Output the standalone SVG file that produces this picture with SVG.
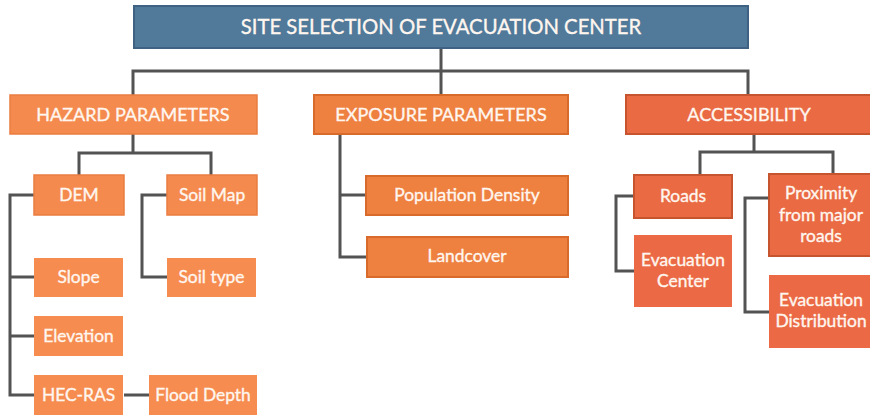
<svg xmlns="http://www.w3.org/2000/svg" width="870" height="415" viewBox="0 0 870 415">
  <style>
    .lbl { font-family: Lato, "Open Sans", "Liberation Sans", sans-serif; fill: #fff6ef; stroke: #fff6ef; stroke-width: 0.35; text-anchor: middle; }
    .title { font-size: 20.3px; }
    .head { font-size: 18px; }
    .sub { font-size: 17.4px; }
    .wire { fill: none; stroke: #535353; stroke-width: 3; }
    .root { fill: #50799a; stroke: #3f6282; stroke-width: 2; }
    .haz { fill: #f48a4d; stroke: #ea7d41; stroke-width: 1.5; }
    .hazs { fill: #f68c4f; }
    .exp { fill: #ee8040; stroke: #d86a2c; stroke-width: 2; }
    .acc { fill: #e96a43; stroke: #c6552f; stroke-width: 2; }
    .accs { fill: #eb6a45; }
  </style>

  <!-- connectors -->
  <g id="connectors" class="wire">
    <path d="M441 49 V71 M133 95 V71 H748 V95 M441 71 V95"/>
    <path d="M133 134 V153 M79 175 V153 H211 V175"/>
    <path d="M34 195 H10 V395 H34 M10 277 H34 M10 336 H34 M124 395 H149"/>
    <path d="M167 195 H142 V277 H167"/>
    <path d="M340 134 V257 H367 M340 195 H366"/>
    <path d="M754 134 V152 M700 175 V152 H833 V174"/>
    <path d="M634 196 H616 V271 H634"/>
    <path d="M769 198 H745 V312 H769"/>
  </g>

  <g id="site-selection">
    <rect class="root" x="134" y="6" width="614" height="42"/>
    <text class="lbl title" x="441" y="34">SITE SELECTION OF EVACUATION CENTER</text>
  </g>

  <!-- hazard branch -->
  <g id="hazard">
    <rect class="haz" x="10" y="95" width="247" height="39"/>
    <text class="lbl head" x="133" y="121">HAZARD PARAMETERS</text>
  </g>
  <g id="dem">
    <rect class="haz" x="34" y="175" width="90" height="40"/>
    <text class="lbl sub" x="79" y="201">DEM</text>
  </g>
  <g id="soil-map">
    <rect class="haz" x="167" y="175" width="90" height="40"/>
    <text class="lbl sub" x="212" y="201">Soil Map</text>
  </g>
  <g id="slope">
    <rect class="hazs" x="34" y="258" width="89" height="39"/>
    <text class="lbl sub" x="78.5" y="283">Slope</text>
  </g>
  <g id="soil-type">
    <rect class="hazs" x="167" y="258" width="89" height="39"/>
    <text class="lbl sub" x="211.5" y="283">Soil type</text>
  </g>
  <g id="elevation">
    <rect class="hazs" x="34" y="316" width="89" height="40"/>
    <text class="lbl sub" x="78.5" y="342">Elevation</text>
  </g>
  <g id="hec-ras">
    <rect class="hazs" x="34" y="375" width="89" height="42"/>
    <text class="lbl sub" x="78.5" y="401">HEC-RAS</text>
  </g>
  <g id="flood-depth">
    <rect class="hazs" x="149" y="375" width="108" height="42"/>
    <text class="lbl sub" x="203" y="401">Flood Depth</text>
  </g>

  <!-- exposure branch -->
  <g id="exposure">
    <rect class="exp" x="314" y="95" width="254" height="39"/>
    <text class="lbl head" x="441" y="121">EXPOSURE PARAMETERS</text>
  </g>
  <g id="population-density">
    <rect class="exp" x="366" y="176" width="202" height="39"/>
    <text class="lbl sub" x="467" y="201">Population Density</text>
  </g>
  <g id="landcover">
    <rect class="exp" x="367" y="237" width="201" height="40"/>
    <text class="lbl sub" x="467" y="262">Landcover</text>
  </g>

  <!-- accessibility branch -->
  <g id="accessibility">
    <rect class="acc" x="626" y="95" width="250" height="39"/>
    <text class="lbl head" x="749" y="121">ACCESSIBILITY</text>
  </g>
  <g id="roads">
    <rect class="acc" x="634" y="175" width="98" height="43"/>
    <text class="lbl sub" x="683" y="202">Roads</text>
  </g>
  <g id="evacuation-center">
    <rect class="accs" x="634" y="235" width="98" height="72"/>
    <text class="lbl sub" x="683" y="266">Evacuation</text>
    <text class="lbl sub" x="683" y="287">Center</text>
  </g>
  <g id="proximity">
    <rect class="acc" x="769" y="174" width="108" height="82"/>
    <text class="lbl sub" x="821" y="199">Proximity</text>
    <text class="lbl sub" x="821" y="220.5">from major</text>
    <text class="lbl sub" x="821" y="242">roads</text>
  </g>
  <g id="evacuation-distribution">
    <rect class="accs" x="769" y="275" width="108" height="73"/>
    <text class="lbl sub" x="821" y="306">Evacuation</text>
    <text class="lbl sub" x="821" y="327">Distribution</text>
  </g>
</svg>
